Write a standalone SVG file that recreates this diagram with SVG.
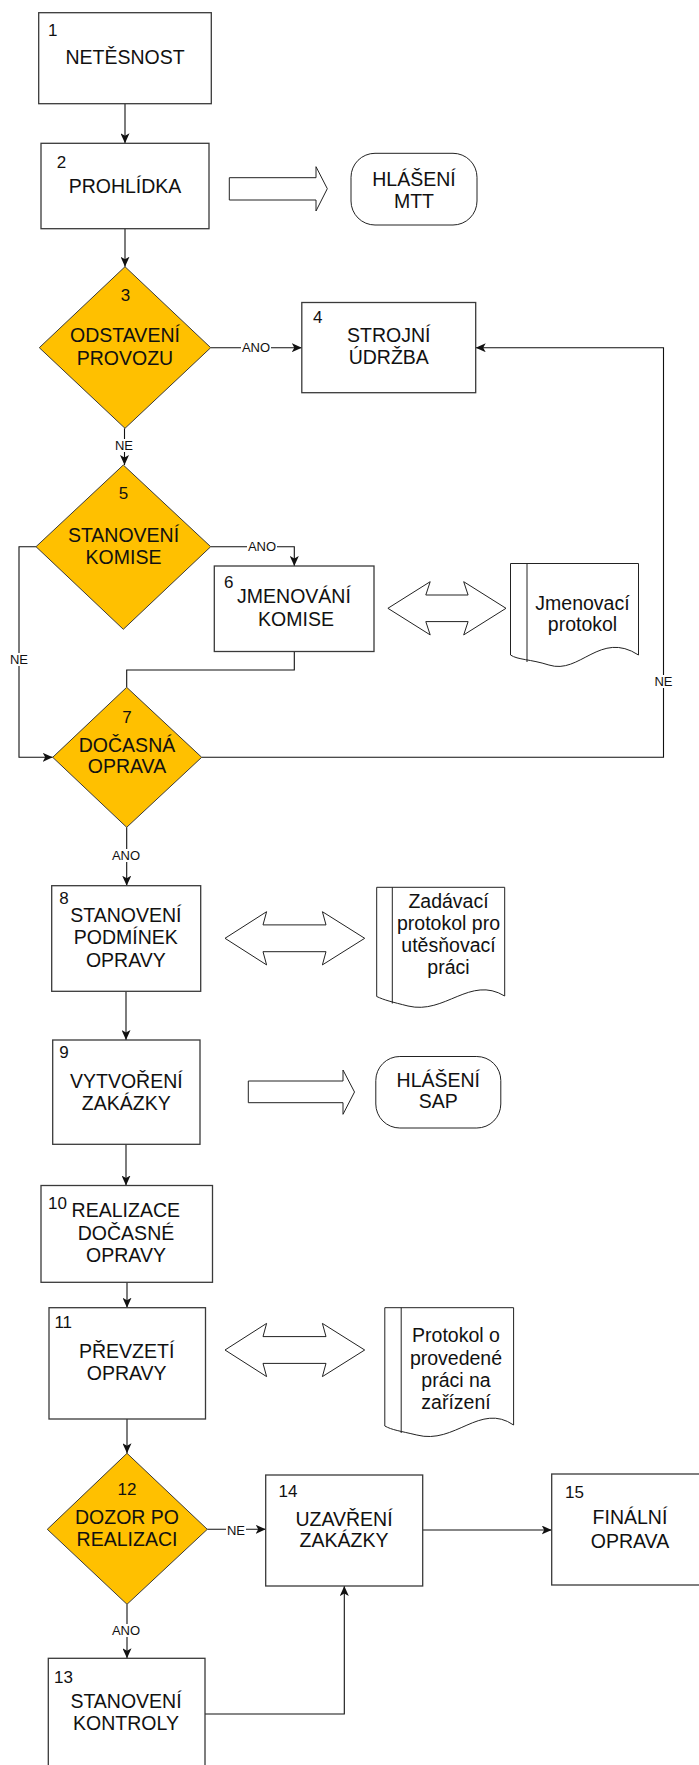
<svg xmlns="http://www.w3.org/2000/svg" width="699" height="1765" viewBox="0 0 699 1765">
<style>
.bx{fill:#fff;stroke:#3a3a3a;stroke-width:1.3}
.dm{fill:#FFC000;stroke:#3a3a3a;stroke-width:1}
.sh{fill:#fff;stroke:#222;stroke-width:1}
.cn{fill:none;stroke:#111;stroke-width:1.1}
.t{font-family:"Liberation Sans",Arial,sans-serif;font-size:19.5px;fill:#111;text-anchor:middle}
.n{font-family:"Liberation Sans",Arial,sans-serif;font-size:17px;fill:#111}
.nc{font-family:"Liberation Sans",Arial,sans-serif;font-size:17px;fill:#111;text-anchor:middle}
.l{font-family:"Liberation Sans",Arial,sans-serif;font-size:13px;fill:#111;text-anchor:middle}
.lb{fill:#fff;stroke:none}
</style>
<defs>
<marker id="ah" markerUnits="userSpaceOnUse" markerWidth="11" markerHeight="9" refX="10" refY="4.5" orient="auto">
<path d="M0,0 L10,4.5 L0,9 L2.5,4.5 z" fill="#111"/>
</marker>
</defs>
<rect width="699" height="1765" fill="#fff"/>

<g id="connectors">
<path class="cn" d="M125,103.7 V143.3" marker-end="url(#ah)"/>
<path class="cn" d="M125,228.7 V266.7" marker-end="url(#ah)"/>
<path class="cn" d="M210.7,347.7 H301.8" marker-end="url(#ah)"/>
<path class="cn" d="M201.7,757.3 H663.5 V347.7 H475.7" marker-end="url(#ah)"/>
<path class="cn" d="M124.5,428.3 V465" marker-end="url(#ah)"/>
<path class="cn" d="M210.7,546.7 H294.3 V566" marker-end="url(#ah)"/>
<path class="cn" d="M294.3,651.5 V670 H126.7 V687.3"/>
<path class="cn" d="M36,546.7 H19 V757.3 H52.7" marker-end="url(#ah)"/>
<path class="cn" d="M126.7,827.3 V885.7" marker-end="url(#ah)"/>
<path class="cn" d="M126,991.3 V1040" marker-end="url(#ah)"/>
<path class="cn" d="M126,1144.3 V1185.5" marker-end="url(#ah)"/>
<path class="cn" d="M127,1282.3 V1307.7" marker-end="url(#ah)"/>
<path class="cn" d="M127,1419 V1453.3" marker-end="url(#ah)"/>
<path class="cn" d="M207.3,1529.3 H265.7" marker-end="url(#ah)"/>
<path class="cn" d="M422.7,1530 H551.7" marker-end="url(#ah)"/>
<path class="cn" d="M127,1604.3 V1658.3" marker-end="url(#ah)"/>
<path class="cn" d="M205,1714 H344.3 V1586" marker-end="url(#ah)"/>
<rect class="lb" x="241" y="341" width="30" height="13"/>
<text class="l" x="256" y="352.2">ANO</text>
<rect class="lb" x="114" y="439" width="20" height="13"/>
<text class="l" x="124" y="450">NE</text>
<rect class="lb" x="247" y="540" width="30" height="13"/>
<text class="l" x="262" y="551.2">ANO</text>
<rect class="lb" x="9" y="653" width="20" height="13"/>
<text class="l" x="19" y="664">NE</text>
<rect class="lb" x="653.5" y="675" width="20" height="13"/>
<text class="l" x="663.5" y="686">NE</text>
<rect class="lb" x="111" y="849" width="30" height="13"/>
<text class="l" x="126" y="860">ANO</text>
<rect class="lb" x="226" y="1524" width="20" height="13"/>
<text class="l" x="236" y="1535">NE</text>
<rect class="lb" x="111" y="1624" width="30" height="13"/>
<text class="l" x="126" y="1635">ANO</text>
</g>

<g id="n1">
<rect class="bx" x="38.7" y="12.7" width="172.6" height="91"/>
<text class="n" x="48" y="35.7">1</text>
<text class="t" x="125" y="64">NETĚSNOST</text>
</g>
<g id="n2">
<rect class="bx" x="41" y="143.3" width="168" height="85.4"/>
<text class="n" x="56.7" y="168.3">2</text>
<text class="t" x="125" y="192.7">PROHLÍDKA</text>
</g>
<g id="a2">
<polygon class="sh" points="229.3,177.7 316,177.7 316,166.7 327.3,188.7 316,211 316,200 229.3,200"/>
</g>
<g id="mtt">
<rect class="sh" x="351" y="153.3" width="126" height="71.7" rx="24" ry="24"/>
<text class="t" x="414" y="185.5">HLÁŠENÍ</text>
<text class="t" x="414" y="207.5">MTT</text>
</g>
<g id="n3">
<polygon class="dm" points="125,266.7 210.7,347.7 125,428.3 39.3,347.7"/>
<text class="nc" x="125.5" y="301">3</text>
<text class="t" x="125" y="341.7">ODSTAVENÍ</text>
<text class="t" x="125" y="365">PROVOZU</text>
</g>
<g id="n4">
<rect class="bx" x="301.8" y="302.5" width="173.9" height="90.2"/>
<text class="n" x="313" y="322.7">4</text>
<text class="t" x="388.8" y="341.7">STROJNÍ</text>
<text class="t" x="388.8" y="364.3">ÚDRŽBA</text>
</g>
<g id="n5">
<polygon class="dm" points="123.3,465 210.7,546.7 123.3,629.3 36,546.7"/>
<text class="nc" x="123.5" y="499.3">5</text>
<text class="t" x="123.5" y="541.7">STANOVENÍ</text>
<text class="t" x="123.5" y="564">KOMISE</text>
</g>
<g id="n6">
<rect class="bx" x="214.3" y="566" width="159.7" height="85.5"/>
<text class="n" x="224" y="588.3">6</text>
<text class="t" x="294" y="603.3">JMENOVÁNÍ</text>
<text class="t" x="296" y="626">KOMISE</text>
</g>
<g id="d6">
<polygon class="sh" points="387.9,608.3 430.2,581.7 425.8,595 468.1,595 463.7,581.7 506,608.3 463.7,634.9 468.1,621.6 425.8,621.6 430.2,634.9"/>
</g>
<g id="doc1">
<path class="sh" d="M510.5,563.5 H638.5 V655 C600,630 580,675 548.9,665 C530,659 518,660 510.5,655 Z"/>
<line class="sh" x1="527" y1="563.5" x2="527" y2="662"/>
<text class="t" x="582.5" y="609.5">Jmenovací</text>
<text class="t" x="582.5" y="631">protokol</text>
</g>
<g id="n7">
<polygon class="dm" points="126.7,687.3 201.7,757.3 126.7,827.3 52.7,757.3"/>
<text class="nc" x="127" y="722.7">7</text>
<text class="t" x="127" y="751.7">DOČASNÁ</text>
<text class="t" x="127" y="773.3">OPRAVA</text>
</g>
<g id="n8">
<rect class="bx" x="51.7" y="885.7" width="149" height="105.6"/>
<text class="n" x="59.3" y="904.3">8</text>
<text class="t" x="125.8" y="922.3">STANOVENÍ</text>
<text class="t" x="125.8" y="944.3">PODMÍNEK</text>
<text class="t" x="125.8" y="966.7">OPRAVY</text>
</g>
<g id="d8">
<polygon class="sh" points="225,938.3 266.6,911.7 263,924.9 326,924.9 322.4,911.7 364.7,938.3 322.4,964.9 326,951.7 263,951.7 266.6,964.9"/>
</g>
<g id="doc2">
<path class="sh" d="M376.7,887.3 H504.7 V996 C470,975 445,1015 408,1006 C392,1002 384,1000 376.7,996.5 Z"/>
<line class="sh" x1="392.3" y1="887.3" x2="392.3" y2="1003.5"/>
<text class="t" x="448.5" y="908">Zadávací</text>
<text class="t" x="448.5" y="930">protokol pro</text>
<text class="t" x="448.5" y="952">utěsňovací</text>
<text class="t" x="448.5" y="974">práci</text>
</g>
<g id="n9">
<rect class="bx" x="52.7" y="1040" width="147.3" height="104.3"/>
<text class="n" x="59.3" y="1058.3">9</text>
<text class="t" x="126.3" y="1088.3">VYTVOŘENÍ</text>
<text class="t" x="126.3" y="1109.7">ZAKÁZKY</text>
</g>
<g id="a9">
<polygon class="sh" points="248.3,1081 343,1081 343,1070 354.5,1092 343,1114.3 343,1102.7 248.3,1102.7"/>
</g>
<g id="sap">
<rect class="sh" x="375.8" y="1056.5" width="125" height="71.5" rx="24" ry="24"/>
<text class="t" x="438.3" y="1086.7">HLÁŠENÍ</text>
<text class="t" x="438.3" y="1108.3">SAP</text>
</g>
<g id="n10">
<rect class="bx" x="41" y="1185.5" width="171.5" height="96.8"/>
<text class="n" x="48" y="1209">10</text>
<text class="t" x="125.8" y="1217.3">REALIZACE</text>
<text class="t" x="126" y="1240">DOČASNÉ</text>
<text class="t" x="126" y="1261.7">OPRAVY</text>
</g>
<g id="n11">
<rect class="bx" x="49" y="1307.7" width="156.5" height="111.3"/>
<text class="n" x="54.4" y="1327.7">11</text>
<text class="t" x="126.7" y="1357.7">PŘEVZETÍ</text>
<text class="t" x="126.7" y="1380">OPRAVY</text>
</g>
<g id="d11">
<polygon class="sh" points="225,1350 266.6,1323.4 263,1336.6 326,1336.6 322.4,1323.4 364.7,1350 322.4,1376.6 326,1363.4 263,1363.4 266.6,1376.6"/>
</g>
<g id="doc3">
<path class="sh" d="M384.8,1307.7 H513.6 V1425 C480,1402 455,1445 416.8,1435 C400,1431 392,1430 384.8,1426 Z"/>
<line class="sh" x1="401.2" y1="1307.7" x2="401.2" y2="1433"/>
<text class="t" x="456" y="1342">Protokol o</text>
<text class="t" x="456" y="1364.5">provedené</text>
<text class="t" x="456" y="1386.5">práci na</text>
<text class="t" x="456" y="1408.5">zařízení</text>
</g>
<g id="n12">
<polygon class="dm" points="127,1453.3 207.3,1529.3 127,1604.3 47.3,1529.3"/>
<text class="nc" x="127" y="1495">12</text>
<text class="t" x="127" y="1524">DOZOR PO</text>
<text class="t" x="127" y="1546">REALIZACI</text>
</g>
<g id="n14">
<rect class="bx" x="265.7" y="1475" width="157" height="111"/>
<text class="n" x="278.6" y="1496.7">14</text>
<text class="t" x="344" y="1525.7">UZAVŘENÍ</text>
<text class="t" x="344" y="1547.3">ZAKÁZKY</text>
</g>
<g id="n15">
<rect class="bx" x="551.7" y="1474" width="150" height="111"/>
<text class="n" x="565" y="1498">15</text>
<text class="t" x="630" y="1524">FINÁLNÍ</text>
<text class="t" x="630" y="1548">OPRAVA</text>
</g>
<g id="n13">
<rect class="bx" x="48.3" y="1658.3" width="156.7" height="110"/>
<text class="n" x="54" y="1682.7">13</text>
<text class="t" x="126" y="1708.3">STANOVENÍ</text>
<text class="t" x="126" y="1730">KONTROLY</text>
</g>
</svg>
